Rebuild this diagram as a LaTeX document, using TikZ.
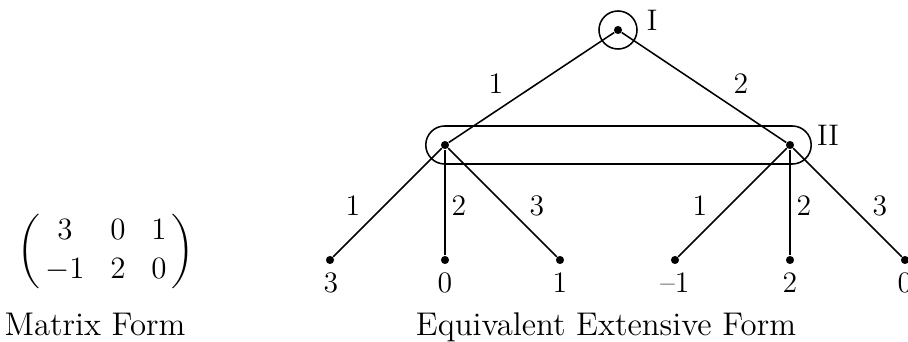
\documentclass[tikz,border=0pt]{standalone}
\usepackage{amsmath}
\begin{document}
\begin{tikzpicture}[x=0.0136cm,y=-0.0136cm,
  dot/.style={circle,fill=black,inner sep=0pt,minimum size=0.11cm},
  edge/.style={line width=0.6pt},
  lbl/.style={inner sep=0pt,anchor=base,font=\fontsize{11.5}{13}\selectfont},
  captxt/.style={inner sep=0pt,anchor=base,font=\fontsize{12.7}{15}\selectfont}]
\useasboundingbox (0,0) rectangle (908,342);
\clip (0,0) rectangle (908,342);
% matrix form
\node[inner sep=0pt,font=\fontsize{12.5}{15}\selectfont] (mat) at (106,251) {$\left(\,\begin{matrix}3&0&1\\-1&2&0\end{matrix}\,\right)$};
\node[captxt] (matcap) at (95,336) {Matrix Form};
% tree
\node[dot] (r) at (618,30) {};
\node[circle,draw,line width=0.6pt,minimum size=0.517cm,inner sep=0pt] (rc) at (r) {};
\node[lbl] (pI) at (652,30) {I};
\node[draw,line width=0.6pt,rounded corners=0.258cm,minimum width=5.24cm,minimum height=0.517cm,inner sep=0pt] (info) at (618.5,145) {};
\node[lbl] (pII) at (828,145) {II};
\node[dot] (a) at (445,145) {};
\node[dot] (b) at (790,145) {};
\draw[edge] (r) -- (a);
\draw[edge] (r) -- (b);
\node[lbl] (e1) at (496,94) {1};
\node[lbl] (e2) at (741,94) {2};
\node[dot] (l1) at (330,260) {};
\node[dot] (l2) at (445,260) {};
\node[dot] (l3) at (560,260) {};
\node[dot] (l4) at (675,260) {};
\node[dot] (l5) at (790,260) {};
\node[dot] (l6) at (905,260) {};
\draw[edge] (a) -- (l1);
\draw[edge] (a) -- (l2);
\draw[edge] (a) -- (l3);
\draw[edge] (b) -- (l4);
\draw[edge] (b) -- (l5);
\draw[edge] (b) -- (l6);
\node[lbl] (m1) at (353,215) {1};
\node[lbl] (m2) at (459,215) {2};
\node[lbl] (m3) at (537,215) {3};
\node[lbl] (m4) at (700,215) {1};
\node[lbl] (m5) at (804,215) {2};
\node[lbl] (m6) at (880,215) {3};
\node[lbl] (p1) at (331,292) {3};
\node[lbl] (p2) at (445,292) {0};
\node[lbl] (p3) at (560,292) {1};
\node[lbl] (p4) at (675,292) {--1};
\node[lbl] (p5) at (790,292) {2};
\node[lbl] (p6) at (905,292) {0};
\node[captxt] (treecap) at (606,336) {Equivalent Extensive Form};
\end{tikzpicture}
\end{document}
